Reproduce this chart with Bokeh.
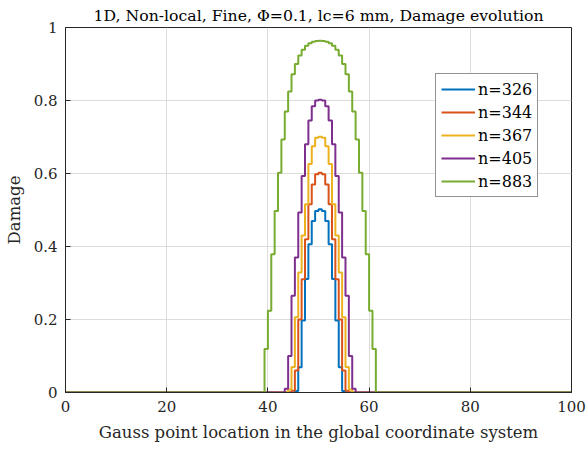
import numpy as np
from bokeh.plotting import figure
from bokeh.models import Range1d, FixedTicker, Legend, LegendItem
from bokeh.embed import file_html
from bokeh.resources import INLINE

# ---- data ----
gauss_spacing = 2 / 3          # distance between Gauss points
n_points = 151                 # points from 0 to 100

labels = ["n=326", "n=344", "n=367", "n=405", "n=883"]
colors = ["#0072BD", "#D95319", "#EDB120", "#7E2F8E", "#77AC30"]

# index of first non-zero Gauss point for each series
start_326 = 68
start_344 = 67
start_367 = 66
start_405 = 65
start_883 = 59

damage_326 = [0.004, 0.069, 0.197, 0.311, 0.406, 0.470, 0.497, 0.502,
              0.497, 0.470, 0.406, 0.311, 0.197, 0.069, 0.004]
damage_344 = [0.005, 0.060, 0.200, 0.310, 0.420, 0.516, 0.570, 0.598, 0.602,
              0.598, 0.570, 0.516, 0.420, 0.310, 0.200, 0.060, 0.005]
damage_367 = [0.008, 0.070, 0.206, 0.329, 0.430, 0.516, 0.626, 0.675, 0.698, 0.701,
              0.698, 0.675, 0.626, 0.516, 0.430, 0.329, 0.206, 0.070, 0.008]
damage_405 = [0.010, 0.100, 0.265, 0.370, 0.493, 0.593, 0.680, 0.745, 0.784, 0.800, 0.802,
              0.800, 0.784, 0.745, 0.680, 0.593, 0.493, 0.370, 0.265, 0.100, 0.010]
damage_883 = [0.119, 0.224, 0.379, 0.497, 0.602, 0.693, 0.770, 0.825, 0.872, 0.900,
              0.923, 0.939, 0.950, 0.957, 0.961, 0.963, 0.964,
              0.963, 0.961, 0.957, 0.950, 0.939, 0.923, 0.900, 0.872, 0.825,
              0.770, 0.693, 0.602, 0.497, 0.379, 0.224, 0.119]

x_ticks = [0, 20, 40, 60, 80, 100]
y_ticks = [0, 0.2, 0.4, 0.6, 0.8, 1]
y_tick_labels = {0: "0", 0.2: "0.2", 0.4: "0.4", 0.6: "0.6", 0.8: "0.8", 1: "1"}

# ---- build arrays ----
gauss_x = np.arange(n_points) * gauss_spacing


def full_profile(start, vals):
    y = np.zeros(n_points)
    y[start:start + len(vals)] = vals
    return y


series = [
    (start_326, damage_326),
    (start_344, damage_344),
    (start_367, damage_367),
    (start_405, damage_405),
    (start_883, damage_883),
]

FONT = "DejaVu Serif"
AX = "#262626"

p = figure(width=587, height=450, x_range=Range1d(0, 100), y_range=Range1d(0, 1),
           output_backend="svg", toolbar_location=None,
           min_border_left=65, min_border_right=16, min_border_top=26,
           min_border_bottom=58)

p.title.text = "1D, Non-local, Fine, \u03a6=0.1, lc=6 mm, Damage evolution"
p.title.align = "center"
p.title.text_font = FONT
p.title.text_font_size = "15.7px"
p.title.text_font_style = "normal"
p.title.text_color = "#000000"
p.title.standoff = 6
p.title.offset = 0

p.outline_line_color = AX
p.outline_line_width = 1
p.background_fill_color = "white"
p.border_fill_color = "white"

for ax in (p.xaxis[0], p.yaxis[0]):
    ax.major_tick_in = 5
    ax.major_tick_out = 0
    ax.minor_tick_in = 0
    ax.minor_tick_out = 0
    ax.axis_line_color = AX
    ax.major_tick_line_color = AX
    ax.major_label_text_font = FONT
    ax.major_label_text_font_size = "15px"
    ax.major_label_text_color = "#262626"
    ax.axis_label_text_font = FONT
    ax.axis_label_text_font_size = "16.5px"
    ax.axis_label_text_font_style = "normal"
    ax.axis_label_text_color = "#262626"

p.xaxis[0].ticker = FixedTicker(ticks=x_ticks)
p.yaxis[0].ticker = FixedTicker(ticks=y_ticks)
p.yaxis[0].major_label_overrides = y_tick_labels
p.xaxis[0].axis_label = "Gauss point location in the global coordinate system"
p.yaxis[0].axis_label = "Damage"
p.xaxis[0].major_label_standoff = 8
p.yaxis[0].major_label_standoff = 8
p.xaxis[0].axis_label_standoff = 8
p.yaxis[0].axis_label_standoff = 7

p.xgrid[0].ticker = FixedTicker(ticks=x_ticks)
p.ygrid[0].ticker = FixedTicker(ticks=y_ticks)
for g in (p.xgrid[0], p.ygrid[0]):
    g.grid_line_color = "#dcdcdc"
    g.grid_line_width = 1

items = []
for (start, vals), lab, col in zip(series, labels, colors):
    r = p.step(gauss_x, full_profile(start, vals), mode="after",
               line_color=col, line_width=2)
    items.append(LegendItem(label=lab, renderers=[r]))

legend = Legend(items=items, location=(370, 195))
legend.label_text_font = FONT
legend.label_text_font_size = "16px"
legend.label_text_color = "#000000"
legend.glyph_width = 34
legend.glyph_height = 20
legend.spacing = 3
legend.padding = 5
legend.margin = 0
legend.label_standoff = 3
legend.border_line_color = AX
legend.border_line_width = 1
legend.background_fill_alpha = 1
p.add_layout(legend)

open("out.html", "w").write(file_html(p, INLINE))
